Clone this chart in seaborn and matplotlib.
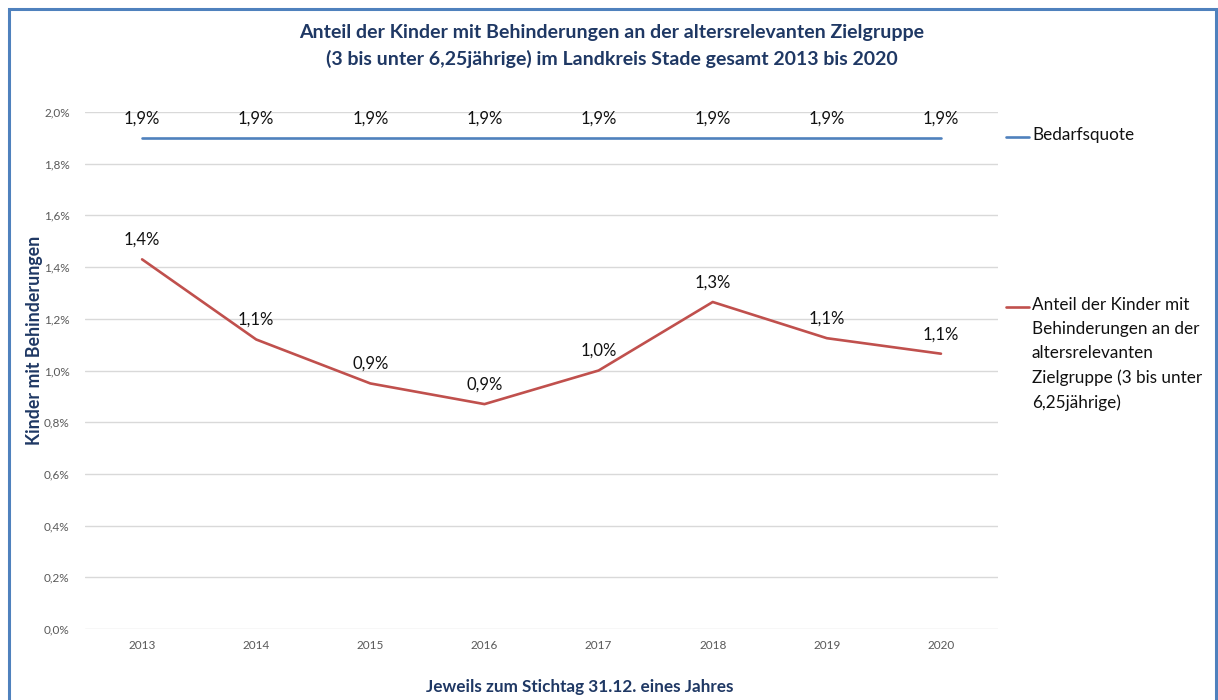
import matplotlib
matplotlib.use("Agg")
import matplotlib.pyplot as plt
from matplotlib.lines import Line2D
from matplotlib.patches import Rectangle
from matplotlib.ticker import FuncFormatter
import seaborn as sns
import pandas as pd

years = ["2013", "2014", "2015", "2016", "2017", "2018", "2019", "2020"]
bedarfsquote = [1.9, 1.9, 1.9, 1.9, 1.9, 1.9, 1.9, 1.9]
anteil = [1.43, 1.12, 0.95, 0.87, 1.00, 1.265, 1.125, 1.065]

name_bedarf = "Bedarfsquote"
name_anteil = ("Anteil der Kinder mit\nBehinderungen an der\naltersrelevanten\n"
               "Zielgruppe (3 bis unter\n6,25jährige)")

navy = "#1F3864"
blue = "#4F81BD"
red = "#C0504D"

df = pd.DataFrame({
    "Jahr": years * 2,
    "Wert": bedarfsquote + anteil,
    "Reihe": [name_bedarf] * len(years) + [name_anteil] * len(years),
})
df["x"] = list(range(len(years))) * 2

sns.set_style("white")
plt.rcParams["font.family"] = ["Lato", "DejaVu Sans"]

fig = plt.figure(figsize=(12.18, 7), dpi=100)
ax = fig.add_axes([0.0698, 0.1014, 0.7496, 0.7386])

sns.lineplot(data=df, x="x", y="Wert", hue="Reihe",
             palette={name_bedarf: blue, name_anteil: red},
             linewidth=1.9, legend=False, ax=ax)

# data labels
for name, vals in [(name_bedarf, bedarfsquote), (name_anteil, anteil)]:
    for i, v in enumerate(vals):
        ax.annotate(f"{v:.1f}%".replace(".", ","), (i, v), xytext=(0, 14),
                    textcoords="offset points", ha="center", va="center",
                    fontsize=12, color="#111111")

ax.set_xlim(-0.5, len(years) - 0.5)
ax.set_ylim(0, 2.0)
ax.set_yticks([i * 0.2 for i in range(11)])
ax.yaxis.set_major_formatter(FuncFormatter(lambda v, p: f"{v:.1f}%".replace(".", ",")))
ax.set_xticks(range(len(years)))
ax.set_xticklabels(years)
ax.tick_params(axis="both", length=0, labelsize=8.5, colors="#595959")
ax.tick_params(axis="x", pad=8)
ax.tick_params(axis="y", pad=11)
ax.grid(axis="y", color="#D9D9D9", linewidth=1)
ax.grid(axis="x", visible=False)
for s in ax.spines.values():
    s.set_visible(False)

ax.set_xlabel("Jeweils zum Stichtag 31.12. eines Jahres", fontsize=12.3,
              fontweight="bold", color=navy)
ax.xaxis.set_label_coords(0.542, -0.097)
ax.set_ylabel("Kinder mit Behinderungen", fontsize=12.8, fontweight="bold",
              color=navy)
ax.yaxis.set_label_coords(-0.046, 0.558)

fig.text(0.502, 0.953, "Anteil der Kinder mit Behinderungen an der altersrelevanten Zielgruppe",
         ha="center", va="center", fontsize=14, fontweight="bold", color=navy)
fig.text(0.502, 0.916, "(3 bis unter 6,25jährige) im Landkreis Stade gesamt 2013 bis 2020",
         ha="center", va="center", fontsize=14, fontweight="bold", color=navy)

# legend on the right
legend_items = [(name_bedarf, blue, 137), (name_anteil, red, 307)]
for label, col, ypix in legend_items:
    y = 1 - ypix / 700
    fig.add_artist(Line2D([1006 / 1218, 1029 / 1218], [y, y], color=col,
                          linewidth=1.9, transform=fig.transFigure))
    fig.text(1032 / 1218, y + 0.014, label, ha="left", va="top", fontsize=12.3,
             color="#111111", linespacing=1.62)

# figure frame
fig.add_artist(Rectangle((0.007, -0.02), 0.991, 1.007, transform=fig.transFigure,
                         fill=False, edgecolor=blue, linewidth=2.2))

fig.savefig("out.png", dpi=100)
